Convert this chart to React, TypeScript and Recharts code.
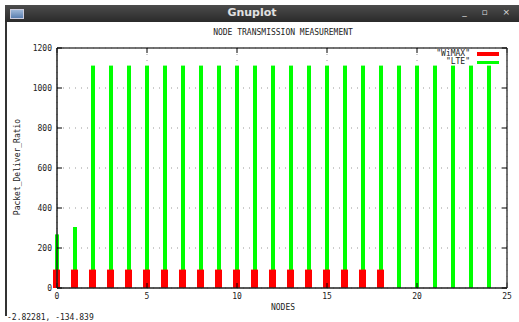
import { ComposedChart, Bar, XAxis, YAxis, CartesianGrid } from "recharts"

const nodes = [0, 1, 2, 3, 4, 5, 6, 7, 8, 9, 10, 11, 12, 13, 14, 15, 16, 17, 18, 19, 20, 21, 22, 23, 24]
const wimax = [92, 92, 92, 92, 92, 92, 92, 92, 92, 92, 92, 92, 92, 92, 92, 92, 92, 92, 92]
const lte = [268, 305, 1112, 1112, 1112, 1112, 1112, 1112, 1112, 1112, 1112, 1112, 1112, 1112, 1112, 1112, 1112, 1112, 1112, 1112, 1112, 1112, 1112, 1112, 1112]
const xTicks = [0, 5, 10, 15, 20, 25]
const yTicks = [0, 200, 400, 600, 800, 1000, 1200]

const data = nodes.map((n, i) => ({ node: n, wimax: wimax[i] ?? null, lte: lte[i] ?? null }))

const mono = "'DejaVu Sans Mono', monospace"
const tickStyle = { fontSize: 8, fill: "#222", fontFamily: mono }
const noLabel = () => ""

function GnuLegend() {
  return (
    <div style={{ position: "absolute", left: 400, top: 50, width: 99, fontFamily: mono, fontSize: 8, color: "#222", lineHeight: "8px" }}>
      <div style={{ display: "flex", alignItems: "center", justifyContent: "flex-end", height: 8 }}>
        <span>"WiMAX"</span>
        <span style={{ display: "inline-block", width: 22, height: 4, background: "#ff0000", marginLeft: 7 }}></span>
      </div>
      <div style={{ display: "flex", alignItems: "center", justifyContent: "flex-end", height: 8 }}>
        <span>"LTE"</span>
        <span style={{ display: "inline-block", width: 22, height: 3, background: "#00ff00", marginLeft: 7 }}></span>
      </div>
    </div>
  )
}

export default function App() {
  return (
    <div style={{ position: "absolute", left: 0, top: 0, width: 519, height: 322, background: "#fff", overflow: "hidden" }}>
      {/* window title bar */}
      <div style={{ position: "absolute", left: 5, top: 5, width: 514, height: 17, background: "linear-gradient(#4c4c4c, #2a2a2a)" }}>
        <div style={{ position: "absolute", left: 5, top: 4, width: 12, height: 8, background: "linear-gradient(#9fb8d8, #5a7fb0)", border: "1px solid #ccd" }}></div>
        <div style={{ position: "absolute", left: 0, width: 494, top: 1, textAlign: "center", color: "#e0e0e0", fontFamily: "'DejaVu Sans', sans-serif", fontWeight: "bold", fontSize: 11 }}>Gnuplot</div>
        <div style={{ position: "absolute", right: 3, top: 2, color: "#ddd", fontFamily: "'DejaVu Sans', sans-serif", fontSize: 9, letterSpacing: 6 }}>_ ▫ ×</div>
      </div>
      <div style={{ position: "absolute", left: 5, top: 22, width: 2, height: 294, background: "#333" }}></div>

      <div style={{ position: "absolute", left: 0, width: 566, top: 28, textAlign: "center", fontFamily: mono, fontSize: 8, color: "#222" }}>NODE TRANSMISSION MEASUREMENT</div>
      <div style={{ position: "absolute", left: 0, width: 566, top: 303, textAlign: "center", fontFamily: mono, fontSize: 8, color: "#222" }}>NODES</div>
      <div style={{ position: "absolute", left: 17, top: 167, transform: "translate(-50%, -50%) rotate(-90deg)", fontFamily: mono, fontSize: 8, color: "#222", whiteSpace: "nowrap" }}>Packet_Deliver_Ratio</div>
      <div style={{ position: "absolute", left: 7, top: 313, fontFamily: mono, fontSize: 8, color: "#222", whiteSpace: "nowrap" }}>-2.82281, -134.839</div>

      <div style={{ position: "absolute", left: 0, top: 0 }}>
        <ComposedChart width={519} height={322} data={data} margin={{ top: 47, right: 11, bottom: 14, left: 0 }}>
          <CartesianGrid xAxisId="bottom" yAxisId="left" stroke="#999" strokeDasharray="1 5" />
          <XAxis xAxisId="bottom" dataKey="node" type="number" domain={[0, 25]} ticks={xTicks} interval={0}
            height={20} axisLine={{ stroke: "#222", strokeWidth: 1.5 }} tickLine={{ stroke: "#000" }} tickSize={-5} tickMargin={10} tick={tickStyle} />
          <XAxis xAxisId="top" orientation="top" dataKey="node" type="number" domain={[0, 25]} ticks={xTicks} interval={0}
            height={1} axisLine={{ stroke: "#444", strokeWidth: 1.5 }} tickLine={{ stroke: "#000" }} tickSize={-5} tick={tickStyle} tickFormatter={noLabel} />
          <YAxis yAxisId="left" domain={[0, 1200]} ticks={yTicks} interval={0} width={57}
            axisLine={{ stroke: "#222", strokeWidth: 1.5 }} tickLine={{ stroke: "#000" }} tickSize={-5} tickMargin={10} tick={tickStyle} />
          <YAxis yAxisId="right" orientation="right" domain={[0, 1200]} ticks={yTicks} interval={0} width={1}
            axisLine={{ stroke: "#444", strokeWidth: 1.5 }} tickLine={{ stroke: "#000" }} tickSize={-5} tick={tickStyle} tickFormatter={noLabel} />
          <Bar xAxisId="top" yAxisId="left" dataKey="lte" name='"LTE"' fill="#00ff00" barSize={4} isAnimationActive={false} />
          <Bar xAxisId="bottom" yAxisId="right" dataKey="wimax" name='"WiMAX"' fill="#ff0000" barSize={7} isAnimationActive={false} />
        </ComposedChart>
      </div>
      <GnuLegend />
    </div>
  )
}
